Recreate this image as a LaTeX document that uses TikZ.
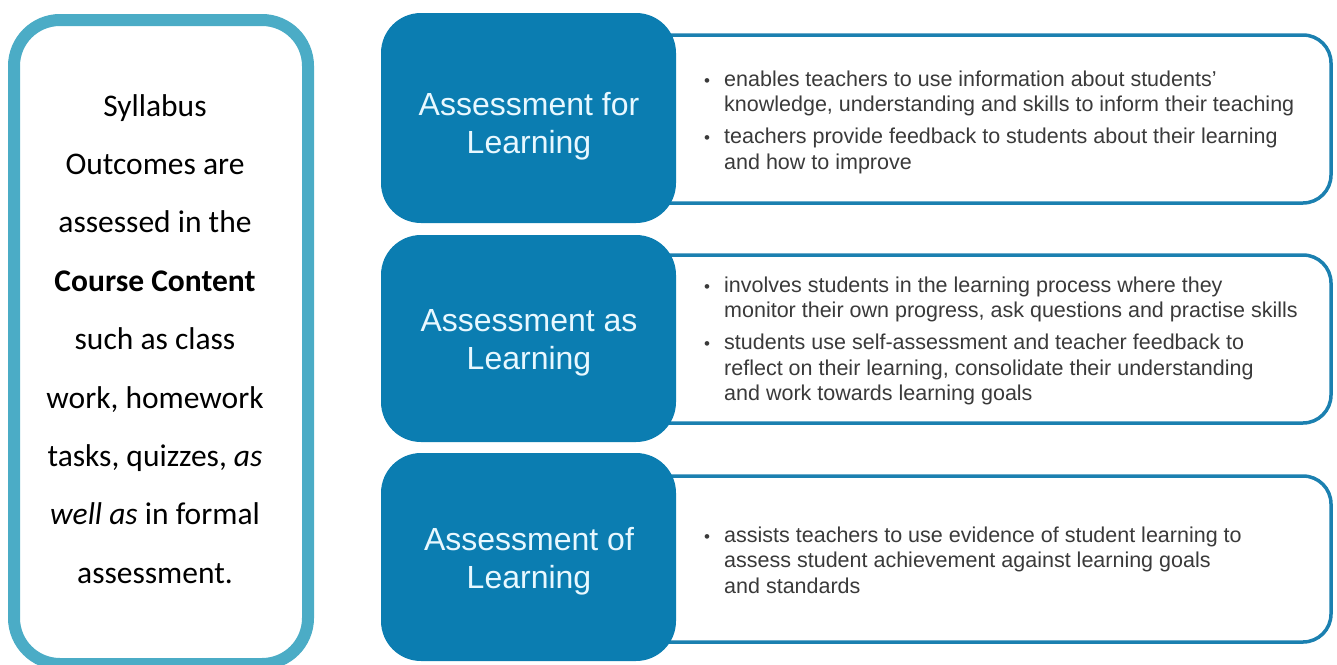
\documentclass[tikz,border=0pt]{standalone}
\usepackage{fontspec}
\setmainfont{Liberation Sans}
\newfontfamily\calib{Carlito}
\definecolor{frameteal}{HTML}{4BACC6}
\definecolor{boxblue}{HTML}{0B7DB1}
\definecolor{lineblue}{HTML}{1B80B0}
\definecolor{headtxt}{HTML}{E8F8FF}
\definecolor{bodytxt}{HTML}{3A3A3A}
\tikzset{
  frame/.style={draw=frameteal, line width=12pt, rounded corners=46pt},
  bluebox/.style={fill=boxblue, draw=none, rounded corners=40pt, minimum width=295pt, inner sep=0pt},
  headtext/.style={text=headtxt, inner sep=0pt, font=\fontsize{32}{38}\selectfont},
  infobox/.style={draw=lineblue, line width=3.5pt, fill=white, rounded corners=28pt, inner sep=0pt},
  bultext/.style={text=bodytxt, inner sep=0pt, anchor=base west, font=\fontsize{21.5}{25.5}\selectfont},
  lefttext/.style={inner sep=0pt, anchor=base, font=\calib\fontsize{31.5}{58.4}\selectfont}
}
\newcommand{\bul}{\makebox[20pt][l]{{\fontsize{17}{17}\selectfont\textbullet}}}
\begin{document}
\begin{tikzpicture}[x=1pt,y=-1pt]
\useasboundingbox (0,0) rectangle (1337,664);
% left frame
\begin{scope}
\clip (0,0) rectangle (1337,664);
\draw[frame] (14,20) rectangle (308,664);
\end{scope}
\node[lefttext] (left) at (155,116) {\begin{tabular}[t]{@{}c@{}}
Syllabus\\
Outcomes are\\
assessed in the\\
\textbf{Course Content}\\
such as class\\
work, homework\\
tasks, quizzes, \textit{as}\\
\textit{well as} in formal\\
assessment.
\end{tabular}};
% info boxes
\node[infobox, minimum width=691pt, minimum height=168pt] (i1) at (985.5,119) {};
\node[infobox, minimum width=691pt, minimum height=168pt] (i2) at (985.5,339) {};
\node[infobox, minimum width=691pt, minimum height=166pt] (i3) at (985.5,559) {};
% blue boxes
\node[bluebox, minimum height=210pt] (b1) at (528.5,118) {};
\node[bluebox, minimum height=207pt] (b2) at (528.5,338.5) {};
\node[bluebox, minimum height=208pt] (b3) at (528.5,557) {};
\node[headtext, anchor=base] (h1) at (529,115) {\begin{tabular}[t]{@{}c@{}}Assessment for\\Learning\end{tabular}};
\node[headtext, anchor=base] (h2) at (529,331) {\begin{tabular}[t]{@{}c@{}}Assessment as\\Learning\end{tabular}};
\node[headtext, anchor=base] (h3) at (529,550) {\begin{tabular}[t]{@{}c@{}}Assessment of\\Learning\end{tabular}};
% bullet texts
\node[bultext] (t1) at (704,86) {\begin{tabular}[t]{@{}l@{}l@{}}
\bul & enables teachers to use information about students'\\
 & knowledge, understanding and skills to inform their teaching\\[6.5pt]
\bul & teachers provide feedback to students about their learning\\
 & and how to improve
\end{tabular}};
\node[bultext] (t2) at (704,292) {\begin{tabular}[t]{@{}l@{}l@{}}
\bul & involves students in the learning process where they\\
 & monitor their own progress, ask questions and practise skills\\[6.5pt]
\bul & students use self-assessment and teacher feedback to\\
 & reflect on their learning, consolidate their understanding\\
 & and work towards learning goals
\end{tabular}};
\node[bultext] (t3) at (704,542) {\begin{tabular}[t]{@{}l@{}l@{}}
\bul & assists teachers to use evidence of student learning to\\
 & assess student achievement against learning goals\\
 & and standards
\end{tabular}};
\end{tikzpicture}
\end{document}
